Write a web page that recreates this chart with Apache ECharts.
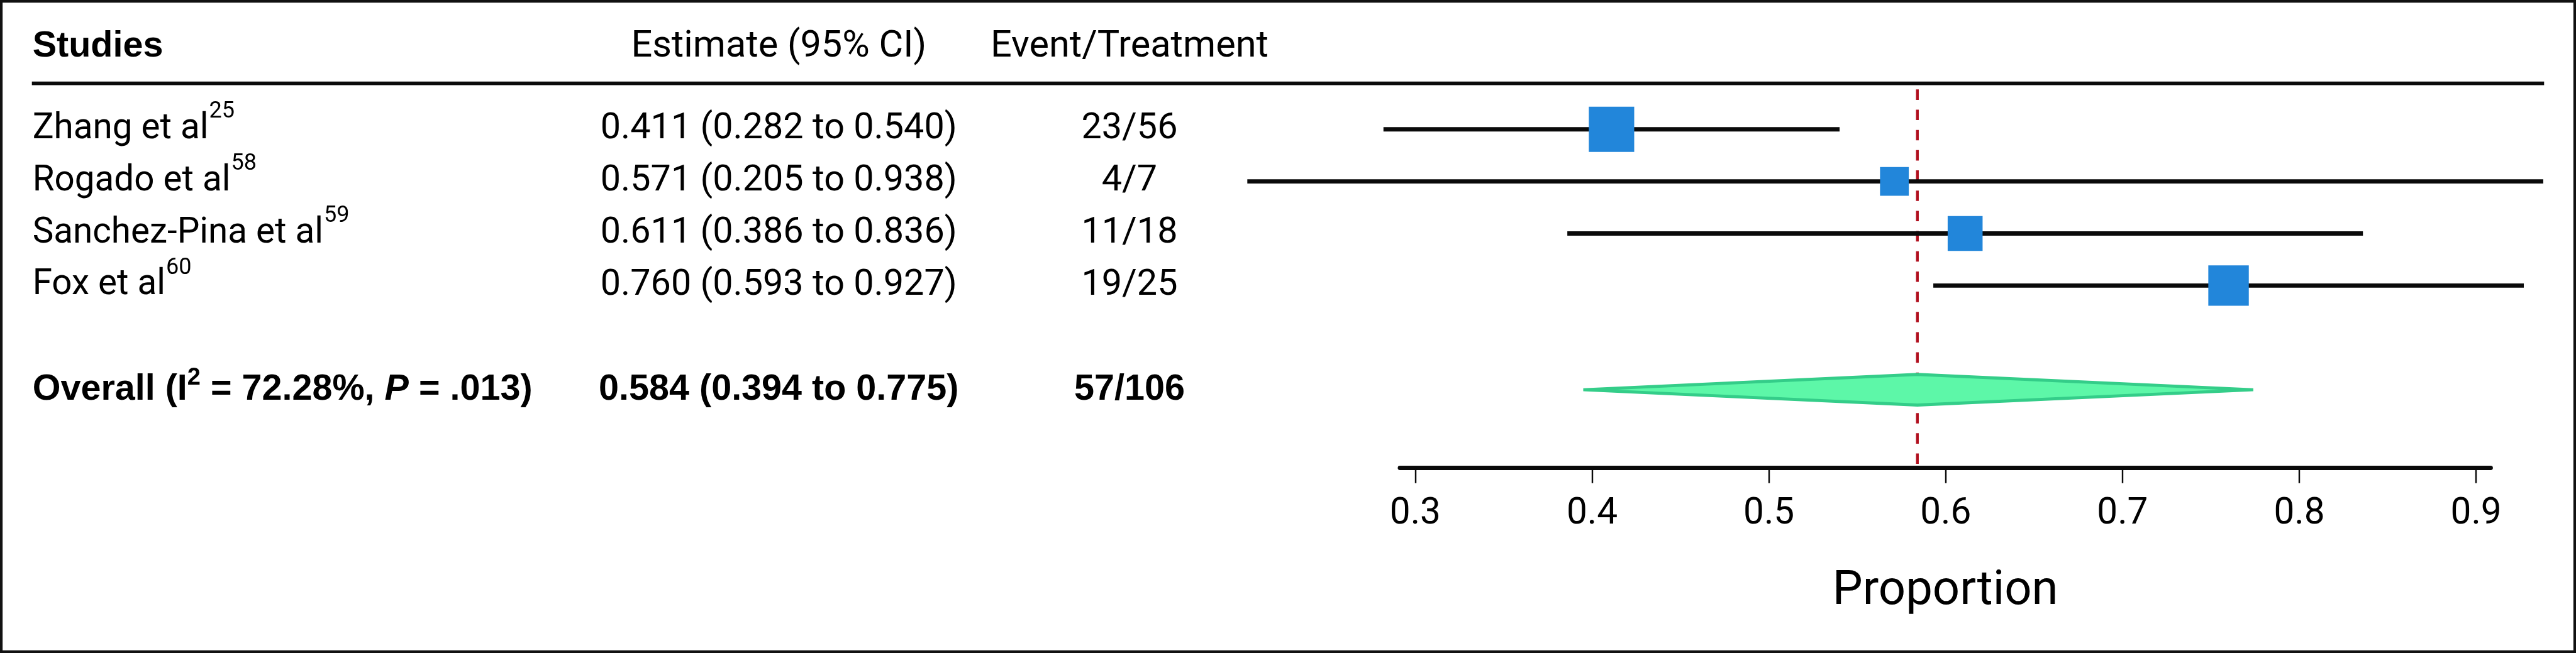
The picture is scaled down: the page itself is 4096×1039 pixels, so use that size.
<!DOCTYPE html>
<html>
<head>
<meta charset="utf-8">
<script src="https://cdn.jsdelivr.net/npm/echarts@6/dist/echarts.min.js"></script>
<style>
html,body{margin:0;padding:0;background:#fff;}
#chart{width:4096px;height:1039px;}
</style>
</head>
<body>
<div id="chart"></div>
<script>
// ---------- data ----------
const columnHeaders = ['Studies', 'Estimate (95% CI)', 'Event/Treatment'];
const studies = ['Zhang et al', 'Rogado et al', 'Sanchez-Pina et al', 'Fox et al'];
const studyRefs = ['25', '58', '59', '60'];
const estimates = [0.411, 0.571, 0.611, 0.760];
const lowerCI = [0.282, 0.205, 0.386, 0.593];
const upperCI = [0.540, 0.938, 0.836, 0.927];
const eventsTreatment = ['23/56', '4/7', '11/18', '19/25'];
const weights = [35.8, 14.4, 21.2, 28.5];
const studyRows = [1, 2, 3, 4];
const overallRow = 6;
const overallEstimate = 0.584;
const overallLower = 0.394;
const overallUpper = 0.775;
const overallEvents = '57/106';
const overallI2 = '72.28%';
const overallP = '.013';
const xTicks = [0.3, 0.4, 0.5, 0.6, 0.7, 0.8, 0.9];
const xAxisName = 'Proportion';

// ---------- layout ----------
const s = 0.975;
const S = v => v * s;
const REG = 'Roboto';
const BOLD = '"Liberation Sans", Arial, sans-serif';
const colName = S(53), colEst = S(1270), colEvt = S(1842);

const ctx = document.createElement('canvas').getContext('2d');
function measure(text, f) {
  ctx.font = (f.style || 'normal') + ' ' + (f.weight || 'normal') + ' ' + f.size + 'px ' + f.family;
  return ctx.measureText(text).width;
}
function txt(text, x, y, f, align) {
  return {
    type: 'text',
    style: {
      text: text, x: x, y: y, fill: '#000',
      fontSize: f.size, fontFamily: f.family,
      fontWeight: f.weight || 'normal', fontStyle: f.style || 'normal',
      align: align, verticalAlign: 'middle'
    }
  };
}
const fmtCI = (e, l, u) => e.toFixed(3) + ' (' + l.toFixed(3) + ' to ' + u.toFixed(3) + ')';

const fName = {size: S(58), family: REG};
const fReg = {size: S(59), family: REG};
const fSup = {size: S(37), family: REG};
const fBold = {size: S(59), family: BOLD, weight: 'bold'};
const fBoldSup = {size: S(39), family: BOLD, weight: 'bold'};
const fBoldIt = {size: S(59), family: BOLD, weight: 'bold', style: 'italic'};

function renderText(params, api) {
  const i = params.dataIndex;
  const y = api.coord([0.6, api.value(1)])[1];
  const ch = [];
  if (i < studies.length) {
    ch.push(txt(studies[i], colName, y, fName, 'left'));
    const w = measure(studies[i], fName);
    ch.push(txt(studyRefs[i], colName + w + S(1), y - S(28), fSup, 'left'));
    ch.push(txt(fmtCI(estimates[i], lowerCI[i], upperCI[i]), colEst, y, fReg, 'center'));
    ch.push(txt(eventsTreatment[i], colEvt, y, fReg, 'center'));
  } else {
    const segs = [
      ['Overall (I', fBold, 0],
      ['2', fBoldSup, -S(19)],
      [' = ' + overallI2 + ', ', fBold, 0],
      ['P', fBoldIt, 0],
      [' = ' + overallP + ')', fBold, 0]
    ];
    let x = colName;
    segs.forEach(sg => {
      ch.push(txt(sg[0], x, y + sg[2], sg[1], 'left'));
      x += measure(sg[0], sg[1]);
    });
    ch.push(txt(fmtCI(overallEstimate, overallLower, overallUpper), colEst, y, fBold, 'center'));
    ch.push(txt(overallEvents, colEvt, y, fBold, 'center'));
  }
  return {type: 'group', children: ch};
}

const maxW = Math.max.apply(null, weights);
function renderStudy(params, api) {
  const est = api.value(0), row = api.value(1), lo = api.value(2), hi = api.value(3), w = api.value(4);
  const pLo = api.coord([lo, row]);
  const pHi = api.coord([hi, row]);
  const pE = api.coord([est, row]);
  const size = S(74) * Math.sqrt(w / maxW);
  return {
    type: 'group',
    children: [
      {type: 'line', shape: {x1: pLo[0], y1: pLo[1], x2: pHi[0], y2: pHi[1]},
        style: {stroke: '#0a0a0a', lineWidth: S(7)}},
      {type: 'rect', shape: {x: pE[0] - size / 2, y: pE[1] - size / 2, width: size, height: size},
        style: {fill: '#2286da'}}
    ]
  };
}

function renderDiamond(params, api) {
  const est = api.value(0), row = api.value(1), lo = api.value(2), hi = api.value(3);
  const pL = api.coord([lo, row]), pR = api.coord([hi, row]), pC = api.coord([est, row]);
  const h = S(25);
  return {
    type: 'polygon',
    shape: {points: [[pL[0] + S(3), pL[1]], [pC[0], pC[1] - h], [pR[0] - S(3), pR[1]], [pC[0], pC[1] + h]]},
    style: {fill: '#5df7a8', stroke: '#34cd89', lineWidth: S(5), lineJoin: 'miter'}
  };
}

function renderRefLine(params, api) {
  const x = api.value(0);
  const p1 = api.coord([x, 0.235]);
  const p2 = api.coord([x, 7.5]);
  return {
    type: 'line',
    shape: {x1: p1[0], y1: p1[1], x2: p2[0], y2: p2[1]},
    style: {stroke: '#b10f1e', lineWidth: S(4.5), lineDash: [S(17), S(16)]}
  };
}

const chart = echarts.init(document.getElementById('chart'), null, {renderer: 'canvas'});
const option = {
  animation: false,
  backgroundColor: '#fff',
  grid: {left: S(2283), width: S(1779), top: S(126), height: S(637.5), containLabel: false},
  xAxis: {
    type: 'value', min: 0.2913, max: 0.9083,
    axisLine: {show: true, onZero: false, lineStyle: {color: '#0a0a0a', width: S(7)}},
    axisTick: {show: true, customValues: xTicks, length: S(25), lineStyle: {color: '#0a0a0a', width: S(2.5)}},
    axisLabel: {show: true, customValues: xTicks, margin: S(46), fontSize: S(60), fontFamily: REG, color: '#000',
      formatter: v => v.toFixed(1)},
    splitLine: {show: false},
    name: xAxisName, nameLocation: 'middle', nameGap: S(164),
    nameTextStyle: {fontSize: S(78), fontFamily: REG, color: '#000'}
  },
  yAxis: {type: 'value', min: 0, max: 7.5, inverse: true, show: false, splitLine: {show: false}},
  graphic: [
    {type: 'rect', shape: {x: S(2), y: S(2), width: 4096 - S(4), height: 1039 - S(4)},
      style: {fill: 'none', stroke: '#111', lineWidth: S(4.5)}, z: 100},
    {type: 'line', shape: {x1: S(52), y1: S(136), x2: S(4149), y2: S(136)},
      style: {stroke: '#0a0a0a', lineWidth: S(6)}},
    {type: 'text', style: {text: columnHeaders[0], x: colName, y: S(76), fill: '#000',
      fontSize: S(59), fontFamily: BOLD, fontWeight: 'bold', align: 'left', verticalAlign: 'middle'}},
    {type: 'text', style: {text: columnHeaders[1], x: colEst, y: S(77), fill: '#000',
      fontSize: S(61), fontFamily: REG, align: 'center', verticalAlign: 'middle'}},
    {type: 'text', style: {text: columnHeaders[2], x: colEvt, y: S(77), fill: '#000',
      fontSize: S(61), fontFamily: REG, align: 'center', verticalAlign: 'middle'}}
  ],
  series: [
    {type: 'custom', clip: false, renderItem: renderRefLine, encode: {x: 0, y: 1},
      data: [[overallEstimate, 0]], z: 1},
    {type: 'custom', clip: false, renderItem: renderStudy, encode: {x: 0, y: 1},
      data: studyRows.map((r, i) => [estimates[i], r, lowerCI[i], upperCI[i], weights[i]]), z: 2},
    {type: 'custom', clip: false, renderItem: renderDiamond, encode: {x: 0, y: 1},
      data: [[overallEstimate, overallRow, overallLower, overallUpper]], z: 3},
    {type: 'custom', clip: false, renderItem: renderText, encode: {x: 0, y: 1},
      data: studyRows.concat([overallRow]).map(r => [0.6, r]), z: 4}
  ]
};
chart.setOption(option);
</script>
</body>
</html>
